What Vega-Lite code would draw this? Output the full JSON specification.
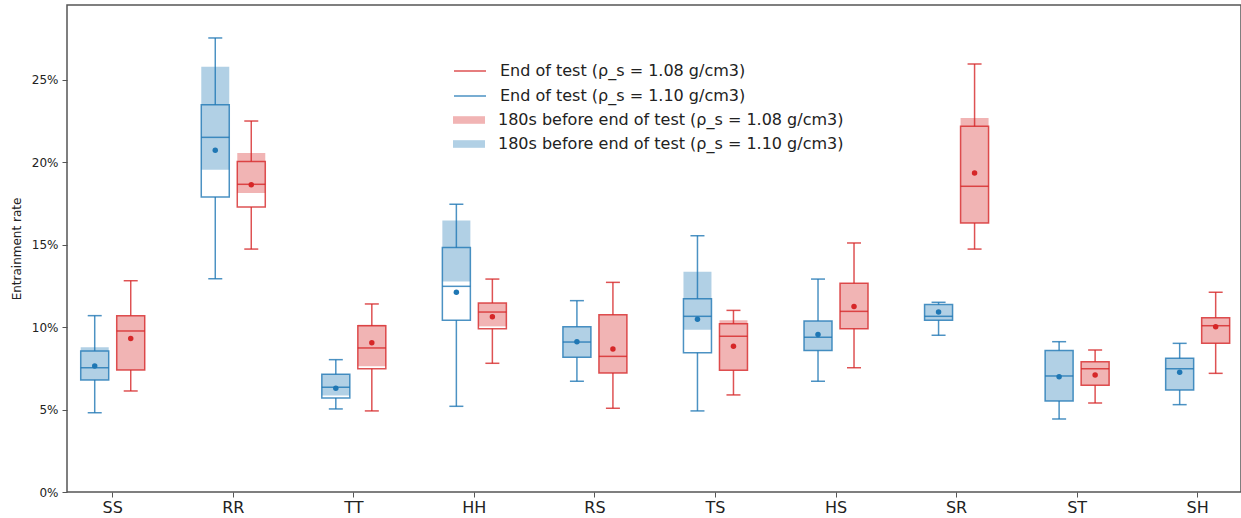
{
  "$schema": "https://vega.github.io/schema/vega-lite/v6.json",
  "width": 1174,
  "height": 487,
  "autosize": {"type": "none"},
  "padding": {"left": 67, "top": 5, "right": 0, "bottom": 26},
  "config": {
    "font": "DejaVu Sans",
    "view": {"stroke": "#555", "strokeWidth": 1.5},
    "axis": {"grid": false, "domain": false, "tickColor": "#555", "labelColor": "#222", "titleColor": "#222", "titleFontWeight": "normal"}
  },
  "data": {"values": [
    {"cat": "SS", "grp": "1.10", "wlo": 4.81, "q1": 6.80, "med": 7.54, "q3": 8.56, "whi": 10.70, "mean": 7.65, "slo": 6.80, "shi": 8.78},
    {"cat": "SS", "grp": "1.08", "wlo": 6.13, "q1": 7.40, "med": 9.77, "q3": 10.70, "whi": 12.82, "mean": 9.32, "slo": 7.40, "shi": 10.70},
    {"cat": "RR", "grp": "1.10", "wlo": 12.94, "q1": 17.90, "med": 21.52, "q3": 23.50, "whi": 27.55, "mean": 20.73, "slo": 19.56, "shi": 25.81},
    {"cat": "RR", "grp": "1.08", "wlo": 14.74, "q1": 17.29, "med": 18.67, "q3": 20.06, "whi": 22.51, "mean": 18.65, "slo": 18.14, "shi": 20.57},
    {"cat": "TT", "grp": "1.10", "wlo": 5.04, "q1": 5.70, "med": 6.35, "q3": 7.14, "whi": 8.03, "mean": 6.29, "slo": 5.85, "shi": 7.14},
    {"cat": "TT", "grp": "1.08", "wlo": 4.92, "q1": 7.48, "med": 8.74, "q3": 10.09, "whi": 11.41, "mean": 9.06, "slo": 7.63, "shi": 10.15},
    {"cat": "HH", "grp": "1.10", "wlo": 5.20, "q1": 10.42, "med": 12.48, "q3": 14.83, "whi": 17.46, "mean": 12.12, "slo": 12.78, "shi": 16.48},
    {"cat": "HH", "grp": "1.08", "wlo": 7.81, "q1": 9.91, "med": 10.92, "q3": 11.47, "whi": 12.92, "mean": 10.64, "slo": 10.05, "shi": 11.47},
    {"cat": "RS", "grp": "1.10", "wlo": 6.72, "q1": 8.17, "med": 9.10, "q3": 10.03, "whi": 11.61, "mean": 9.12, "slo": 8.17, "shi": 10.03},
    {"cat": "RS", "grp": "1.08", "wlo": 5.08, "q1": 7.22, "med": 8.23, "q3": 10.76, "whi": 12.72, "mean": 8.68, "slo": 7.22, "shi": 10.76},
    {"cat": "TS", "grp": "1.10", "wlo": 4.92, "q1": 8.45, "med": 10.66, "q3": 11.73, "whi": 15.55, "mean": 10.48, "slo": 9.85, "shi": 13.37},
    {"cat": "TS", "grp": "1.08", "wlo": 5.89, "q1": 7.38, "med": 9.45, "q3": 10.21, "whi": 11.02, "mean": 8.84, "slo": 7.38, "shi": 10.42},
    {"cat": "HS", "grp": "1.10", "wlo": 6.72, "q1": 8.58, "med": 9.39, "q3": 10.38, "whi": 12.92, "mean": 9.55, "slo": 8.58, "shi": 10.38},
    {"cat": "HS", "grp": "1.08", "wlo": 7.54, "q1": 9.91, "med": 10.96, "q3": 12.66, "whi": 15.11, "mean": 11.25, "slo": 9.91, "shi": 12.66},
    {"cat": "SR", "grp": "1.10", "wlo": 9.51, "q1": 10.42, "med": 10.66, "q3": 11.37, "whi": 11.51, "mean": 10.92, "slo": 10.42, "shi": 11.37},
    {"cat": "SR", "grp": "1.08", "wlo": 14.74, "q1": 16.32, "med": 18.55, "q3": 22.19, "whi": 25.97, "mean": 19.36, "slo": 16.32, "shi": 22.69},
    {"cat": "ST", "grp": "1.10", "wlo": 4.43, "q1": 5.52, "med": 7.04, "q3": 8.58, "whi": 9.12, "mean": 7.00, "slo": 5.52, "shi": 8.58},
    {"cat": "ST", "grp": "1.08", "wlo": 5.40, "q1": 6.47, "med": 7.48, "q3": 7.91, "whi": 8.62, "mean": 7.10, "slo": 6.47, "shi": 7.91},
    {"cat": "SH", "grp": "1.10", "wlo": 5.30, "q1": 6.19, "med": 7.48, "q3": 8.11, "whi": 9.02, "mean": 7.26, "slo": 6.19, "shi": 8.11},
    {"cat": "SH", "grp": "1.08", "wlo": 7.20, "q1": 9.02, "med": 10.09, "q3": 10.58, "whi": 12.12, "mean": 10.03, "slo": 9.02, "shi": 10.58}
  ]},
  "transform": [
    {"calculate": "datum.grp == '1.08' ? 'End of test (ρ_s = 1.08 g/cm3)' : 'End of test (ρ_s = 1.10 g/cm3)'", "as": "endLabel"},
    {"calculate": "datum.grp == '1.08' ? '180s before end of test (ρ_s = 1.08 g/cm3)' : '180s before end of test (ρ_s = 1.10 g/cm3)'", "as": "shadeLabel"}
  ],
  "encoding": {
    "x": {"field": "cat", "type": "nominal", "sort": ["SS", "RR", "TT", "HH", "RS", "TS", "HS", "SR", "ST", "SH"],
      "scale": {"paddingInner": 0.4027, "paddingOuter": 0.0707, "align": 0.57},
      "axis": {"title": null, "labelAngle": 0, "labelFontSize": 16, "tickSize": 5, "labelPadding": 2}},
    "xOffset": {"field": "grp", "type": "nominal", "sort": ["1.10", "1.08"], "scale": {"paddingInner": 0.2222, "paddingOuter": 0.111}}
  },
  "layer": [
    {
      "mark": {"type": "bar", "opacity": 0.35},
      "encoding": {
        "y": {"field": "slo", "type": "quantitative", "title": "Entrainment rate", "scale": {"domain": [0, 29.55], "nice": false},
          "axis": {"values": [0, 5, 10, 15, 20, 25], "labelExpr": "datum.value + '%'", "labelFontSize": 12, "titleFontSize": 12, "tickSize": 5, "labelPadding": 4, "titlePadding": 8}},
        "y2": {"field": "shi"},
        "fill": {"field": "shadeLabel", "type": "nominal",
          "scale": {"domain": ["180s before end of test (ρ_s = 1.08 g/cm3)", "180s before end of test (ρ_s = 1.10 g/cm3)"], "range": ["#d62728", "#1f77b4"]},
          "legend": {"title": null, "orient": "none", "legendX": 392, "legendY": 105, "symbolType": "M-1.6,-0.38H1.6V0.38H-1.6Z", "symbolSize": 400, "symbolOpacity": 0.35, "symbolStrokeWidth": 0, "labelFontSize": 16, "labelLimit": 600, "labelColor": "#222", "labelOffset": 19, "rowPadding": 6, "padding": 0}}
      }
    },
    {
      "mark": {"type": "rule", "strokeWidth": 1.5, "opacity": 0.8},
      "encoding": {
        "y": {"field": "wlo", "type": "quantitative", "title": "Entrainment rate"},
        "y2": {"field": "q1"},
        "color": {"field": "endLabel", "type": "nominal",
          "scale": {"domain": ["End of test (ρ_s = 1.08 g/cm3)", "End of test (ρ_s = 1.10 g/cm3)"], "range": ["#d62728", "#1f77b4"]},
          "legend": {"title": null, "orient": "none", "legendX": 392, "legendY": 55, "symbolType": "M-1.6,0H1.6", "symbolSize": 400, "symbolStrokeWidth": 1.5, "symbolOpacity": 0.8, "labelFontSize": 16, "labelLimit": 600, "labelColor": "#222", "labelOffset": 19, "rowPadding": 6, "padding": 0}}
      }
    },
    {
      "mark": {"type": "rule", "strokeWidth": 1.5, "opacity": 0.8},
      "encoding": {
        "y": {"field": "q3", "type": "quantitative", "title": "Entrainment rate"},
        "y2": {"field": "whi"},
        "color": {"field": "endLabel", "type": "nominal"}
      }
    },
    {
      "mark": {"type": "tick", "size": 14, "thickness": 1.5, "opacity": 0.8},
      "encoding": {
        "y": {"field": "wlo", "type": "quantitative", "title": "Entrainment rate"},
        "color": {"field": "endLabel", "type": "nominal"}
      }
    },
    {
      "mark": {"type": "tick", "size": 14, "thickness": 1.5, "opacity": 0.8},
      "encoding": {
        "y": {"field": "whi", "type": "quantitative", "title": "Entrainment rate"},
        "color": {"field": "endLabel", "type": "nominal"}
      }
    },
    {
      "mark": {"type": "bar", "fill": "transparent", "strokeWidth": 1.5, "strokeOpacity": 0.8},
      "encoding": {
        "y": {"field": "q1", "type": "quantitative", "title": "Entrainment rate"},
        "y2": {"field": "q3"},
        "stroke": {"field": "endLabel", "type": "nominal",
          "scale": {"domain": ["End of test (ρ_s = 1.08 g/cm3)", "End of test (ρ_s = 1.10 g/cm3)"], "range": ["#d62728", "#1f77b4"]},
          "legend": null}
      }
    },
    {
      "mark": {"type": "tick", "size": 28, "thickness": 1.5, "opacity": 0.8},
      "encoding": {
        "y": {"field": "med", "type": "quantitative", "title": "Entrainment rate"},
        "color": {"field": "endLabel", "type": "nominal"}
      }
    },
    {
      "mark": {"type": "point", "filled": true, "size": 30, "opacity": 1},
      "encoding": {
        "y": {"field": "mean", "type": "quantitative", "title": "Entrainment rate"},
        "color": {"field": "endLabel", "type": "nominal"}
      }
    }
  ]
}
